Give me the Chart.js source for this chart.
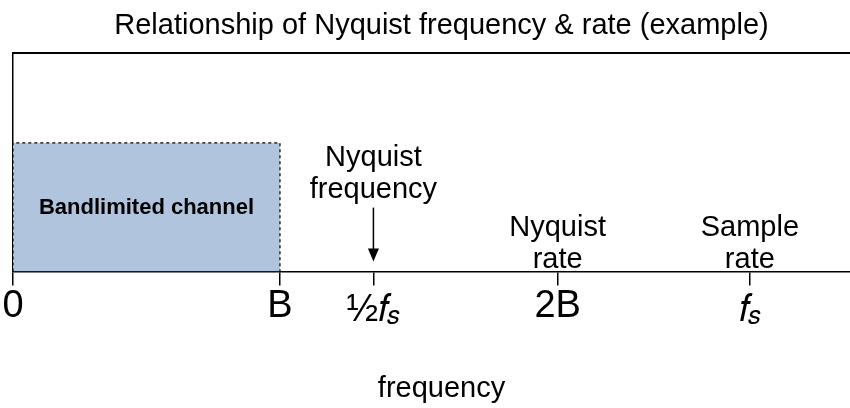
<!DOCTYPE html>
<html>
<head>
<meta charset="utf-8">
<script src="https://cdn.jsdelivr.net/npm/chart.js@4"></script>
<style>
  html, body { margin: 0; padding: 0; overflow: hidden; background: #fff; }
  #wrap { width: 850px; height: 408px; overflow: hidden; }
</style>
</head>
<body>
<div id="wrap"><canvas id="chart" width="880" height="408"></canvas></div>
<script>
// Podaci za grafik
const chartTitle = 'Relationship of Nyquist frequency & rate (example)';
const axisTitle = 'frequency';
const tickValues = [0, 1, 1.35, 2.04, 2.76];
const tickLabels = ['0', 'B', '½𝑓_𝑠', '2B', '𝑓_𝑠'];   // "_" = indeks
const bandX = [0, 1];          // kanal od 0 do B
const bandLevel = 1;
const bandLabel = 'Bandlimited channel';
const markerX = [1.35, 2.04, 2.76];
const markerLabels = [['Nyquist', 'frequency'], ['Nyquist', 'rate'], ['Sample', 'rate']];
const markerArrow = [true, false, false];

const FONT = "'Liberation Sans', Arial, 'DejaVu Sans', sans-serif";

// Oznake, strelica i matematicke oznake na osi
const annotations = {
    id: 'annotations',
    afterDatasetsDraw(chart) {
        const ctx = chart.ctx;
        const x = chart.scales.x;
        const y = chart.scales.y;
        const base = y.getPixelForValue(0);

        ctx.save();
        ctx.fillStyle = '#000';
        ctx.textAlign = 'center';

        // tekst u kanalu
        ctx.font = 'bold 22px ' + FONT;
        ctx.textBaseline = 'middle';
        const bx = (x.getPixelForValue(bandX[0]) + x.getPixelForValue(bandX[1])) / 2;
        const by = (y.getPixelForValue(0) + y.getPixelForValue(bandLevel)) / 2;
        ctx.fillText(bandLabel, bx, by + 1);

        ctx.font = '29px ' + FONT;
        ctx.textBaseline = 'alphabetic';
        markerX.forEach((v, i) => {
            const px = x.getPixelForValue(v);
            const lines = markerLabels[i];
            let bottom = base - 4;
            if (markerArrow[i]) {
                const top = base - 64;
                const tip = base - 10;
                ctx.strokeStyle = '#000';
                ctx.lineWidth = 1.5;
                ctx.beginPath();
                ctx.moveTo(px, top);
                ctx.lineTo(px, tip - 12);
                ctx.stroke();
                ctx.beginPath();
                ctx.moveTo(px - 5.5, tip - 13);
                ctx.lineTo(px + 5.5, tip - 13);
                ctx.lineTo(px, tip);
                ctx.closePath();
                ctx.fill();
                bottom = top - 10;
            }
            for (let k = lines.length - 1; k >= 0; k--) {
                ctx.fillText(lines[k], px, bottom - (lines.length - 1 - k) * 32);
            }
        });

        // oznake sa indeksom (½fs, fs)
        ctx.textAlign = 'left';
        tickValues.forEach((v, i) => {
            const lbl = tickLabels[i];
            if (lbl.indexOf('_') < 0) return;
            const [main, sub] = lbl.split('_');
            const px = x.getPixelForValue(v);
            const yb = base + 49;
            ctx.font = '38px ' + FONT;
            const w1 = ctx.measureText(main).width;
            ctx.font = '26px ' + FONT;
            const w2 = ctx.measureText(sub).width;
            const left = px - (w1 + w2 - 3) / 2;
            ctx.font = '38px ' + FONT;
            ctx.fillText(main, left, yb);
            ctx.font = '26px ' + FONT;
            ctx.fillText(sub, left + w1 - 3, yb + 3);
        });
        ctx.restore();
    }
};

const ctx = document.getElementById('chart').getContext('2d');
new Chart(ctx, {
    type: 'scatter',
    data: {
        datasets: [{
            data: [
                { x: bandX[0], y: 0 },
                { x: bandX[0], y: bandLevel },
                { x: bandX[1], y: bandLevel },
                { x: bandX[1], y: 0 }
            ],
            showLine: true,
            fill: 'origin',
            backgroundColor: '#b0c4de',
            borderColor: '#000',
            borderWidth: 1.2,
            borderDash: [3, 3],
            pointRadius: 0,
            tension: 0
        }]
    },
    options: {
        responsive: false,
        animation: false,
        layout: { padding: { left: 13, right: 10, top: 0, bottom: 0 } },
        plugins: {
            legend: { display: false },
            tooltip: { enabled: false },
            title: {
                display: true,
                text: chartTitle,
                color: '#000',
                font: { family: FONT, size: 29, weight: 'normal' },
                padding: { top: 9, bottom: 9 }
            }
        },
        scales: {
            x: {
                type: 'linear',
                position: 'bottom',
                min: 0,
                max: 3.21,
                afterBuildTicks: (scale) => {
                    scale.ticks = tickValues.map(v => ({ value: v }));
                },
                ticks: {
                    autoSkip: false,
                    maxRotation: 0,
                    color: '#000',
                    padding: -2,
                    font: { family: FONT, size: 38 },
                    callback: (value, index) => tickLabels[index].indexOf('_') < 0 ? tickLabels[index] : ''
                },
                grid: {
                    display: true,
                    drawOnChartArea: false,
                    drawTicks: true,
                    tickLength: 14,
                    color: '#000',
                    lineWidth: 1.5
                },
                border: { display: true, color: '#000', width: 1.5 },
                title: {
                    display: true,
                    text: axisTitle,
                    color: '#000',
                    font: { family: FONT, size: 29 },
                    padding: { top: 44, bottom: 2 }
                }
            },
            x2: {
                type: 'linear',
                position: 'top',
                min: 0,
                max: 3.21,
                ticks: { display: false },
                grid: { display: false, drawTicks: false },
                border: { display: true, color: '#000', width: 2 }
            },
            y: {
                min: 0,
                max: 1.7,
                ticks: { display: false },
                grid: { display: false, drawTicks: false },
                border: { display: true, color: '#000', width: 1.5 }
            }
        }
    },
    plugins: [annotations]
});
</script>
</body>
</html>
